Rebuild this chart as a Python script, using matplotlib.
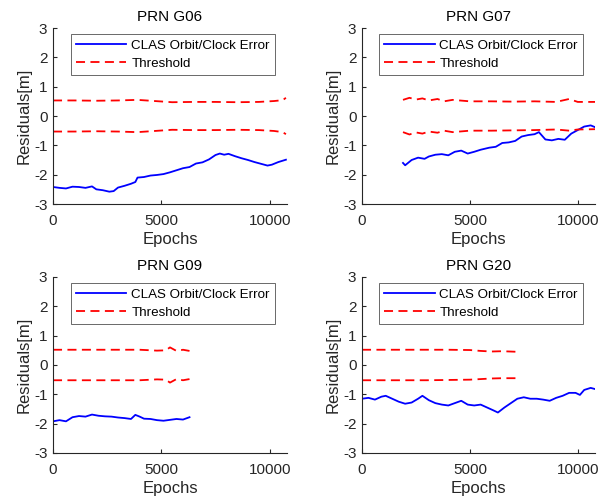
import matplotlib
matplotlib.use("Agg")
import matplotlib.pyplot as plt

plt.rcParams['font.family'] = ['Liberation Sans', 'DejaVu Sans']

# ---- data ----
# PRN G06
g06_x = [0, 300, 600, 900, 1200, 1500, 1800, 2000, 2300, 2600, 2800, 3000, 3300, 3600, 3800, 3900,
         4200, 4500, 4800, 5100, 5400, 5700, 6000, 6300, 6600, 6900, 7200, 7500, 7700, 7900, 8100,
         8400, 8700, 9000, 9300, 9600, 9900, 10100, 10400, 10750]
g06_err = [-2.42, -2.45, -2.47, -2.41, -2.42, -2.45, -2.40, -2.50, -2.53, -2.58, -2.56, -2.44, -2.38,
           -2.31, -2.25, -2.10, -2.08, -2.03, -2.01, -1.98, -1.92, -1.85, -1.78, -1.74, -1.62, -1.58,
           -1.48, -1.33, -1.28, -1.32, -1.29, -1.37, -1.44, -1.50, -1.57, -1.63, -1.69, -1.66, -1.57, -1.49]
g06_tx = [0, 1000, 2000, 3000, 3900, 4500, 5500, 6500, 7500, 8500, 9500, 10200, 10600, 10750]
g06_up = [0.53, 0.53, 0.52, 0.53, 0.55, 0.52, 0.47, 0.48, 0.48, 0.47, 0.48, 0.51, 0.54, 0.62]
g06_lo = [-0.53, -0.53, -0.52, -0.53, -0.55, -0.52, -0.47, -0.48, -0.48, -0.47, -0.48, -0.51, -0.55, -0.62]

# PRN G07
g07_x = [1900, 2000, 2300, 2600, 2900, 3100, 3400, 3700, 4000, 4300, 4600, 4900, 5200, 5500, 5900,
         6200, 6500, 6800, 7100, 7400, 7700, 8000, 8200, 8500, 8800, 9100, 9400, 9700, 10000, 10300,
         10600, 10800]
g07_err = [-1.60, -1.68, -1.50, -1.42, -1.46, -1.38, -1.32, -1.30, -1.34, -1.22, -1.18, -1.28, -1.22,
           -1.15, -1.08, -1.05, -0.92, -0.90, -0.85, -0.70, -0.65, -0.62, -0.55, -0.80, -0.83, -0.78,
           -0.81, -0.60, -0.48, -0.36, -0.32, -0.38]
g07_tx = [1900, 2200, 2500, 2800, 3100, 3500, 3800, 4200, 5000, 6000, 7000, 8000, 9000, 9600, 10000, 10800]
g07_up = [0.55, 0.62, 0.56, 0.60, 0.53, 0.58, 0.50, 0.55, 0.50, 0.50, 0.49, 0.50, 0.48, 0.58, 0.48, 0.48]
g07_lo = [-0.55, -0.63, -0.56, -0.60, -0.53, -0.57, -0.50, -0.55, -0.50, -0.50, -0.49, -0.48, -0.46, -0.50, -0.46, -0.45]

# PRN G09
g09_x = [0, 300, 600, 900, 1200, 1500, 1800, 2100, 2400, 2700, 3000, 3300, 3600, 3800, 4000, 4200,
         4500, 4800, 5100, 5400, 5700, 6000, 6300]
g09_err = [-1.92, -1.88, -1.92, -1.78, -1.74, -1.76, -1.69, -1.73, -1.75, -1.76, -1.79, -1.81, -1.84,
           -1.70, -1.76, -1.83, -1.84, -1.88, -1.90, -1.87, -1.84, -1.86, -1.78]
g09_tx = [0, 1000, 2000, 3000, 4000, 4800, 5200, 5400, 5700, 6000, 6300]
g09_up = [0.52, 0.52, 0.52, 0.52, 0.52, 0.49, 0.50, 0.60, 0.48, 0.52, 0.48]
g09_lo = [-0.52, -0.52, -0.52, -0.52, -0.52, -0.49, -0.50, -0.60, -0.48, -0.52, -0.48]

# PRN G20
g20_x = [0, 300, 600, 900, 1100, 1400, 1700, 2000, 2300, 2600, 2800, 3100, 3400, 3700, 4000, 4300,
         4600, 4900, 5200, 5500, 5800, 6100, 6300, 6600, 6900, 7200, 7500, 7800, 8100, 8400, 8700,
         9000, 9300, 9600, 9900, 10100, 10300, 10600, 10800]
g20_err = [-1.15, -1.12, -1.18, -1.08, -1.05, -1.15, -1.25, -1.32, -1.28, -1.15, -1.05, -1.20, -1.30,
           -1.35, -1.38, -1.30, -1.22, -1.35, -1.38, -1.35, -1.45, -1.55, -1.62, -1.45, -1.30, -1.15,
           -1.10, -1.15, -1.15, -1.18, -1.22, -1.12, -1.05, -0.95, -0.95, -1.02, -0.85, -0.78, -0.82]
g20_tx = [0, 1000, 2000, 3000, 4000, 5000, 5500, 6000, 6500, 7200]
g20_up = [0.52, 0.52, 0.52, 0.52, 0.52, 0.51, 0.48, 0.46, 0.47, 0.45]
g20_lo = [-0.52, -0.52, -0.52, -0.52, -0.51, -0.50, -0.48, -0.46, -0.45, -0.45]

panels = [
    ("PRN G06", g06_x, g06_err, g06_tx, g06_up, g06_lo),
    ("PRN G07", g07_x, g07_err, g07_tx, g07_up, g07_lo),
    ("PRN G09", g09_x, g09_err, g09_tx, g09_up, g09_lo),
    ("PRN G20", g20_x, g20_err, g20_tx, g20_up, g20_lo),
]

W, H = 606, 498
fig = plt.figure(figsize=(W / 100, H / 100), dpi=100)

# axes boxes in pixels: left, top, right, bottom
boxes = [(53, 28, 287, 204), (362, 28, 595, 204), (53, 277, 287, 453), (362, 277, 595, 453)]

for (title, x, err, tx, up, lo), (l, t, r, b) in zip(panels, boxes):
    ax = fig.add_axes([l / W, (H - b) / H, (r - l) / W, (b - t) / H])
    ax.plot(x, err, color='blue', lw=1.3, label='CLAS Orbit/Clock Error')
    ax.plot(tx, up, color='red', lw=1.3, ls=(0, (5, 3)), label='Threshold')
    ax.plot(tx, lo, color='red', lw=1.3, ls=(0, (5, 3)))
    ax.set_xlim(0, 10800)
    ax.set_ylim(-3, 3)
    ax.set_xticks([0, 5000, 10000])
    ax.set_yticks([-3, -2, -1, 0, 1, 2, 3])
    ax.set_yticklabels(['-3', '-2', '-1', '0', '1', '2', '3'])
    ax.spines['top'].set_visible(False)
    ax.spines['right'].set_visible(False)
    for s in ('left', 'bottom'):
        ax.spines[s].set_color('#262626')
        ax.spines[s].set_linewidth(0.8)
    ax.tick_params(direction='in', length=3, labelsize=11, colors='#262626', labelcolor='#262626', pad=4)
    ax.tick_params(axis='x', pad=7)
    ax.set_title(title, fontsize=11, pad=5)
    ax.set_xlabel('Epochs', fontsize=12, labelpad=3, color='#262626')
    ax.set_ylabel('Residuals[m]', fontsize=12, labelpad=2, color='#262626')
    leg = ax.legend(loc='upper right', bbox_to_anchor=(1 - 6 / (r - l), 1), fontsize=9.6,
                    handlelength=3.8, frameon=True, fancybox=False,
                    borderpad=0.4, labelspacing=0.43, handletextpad=0.35, borderaxespad=0.45)
    leg.get_frame().set_edgecolor('#262626')
    leg.get_frame().set_linewidth(0.6)

fig.savefig('out.png', dpi=100)
